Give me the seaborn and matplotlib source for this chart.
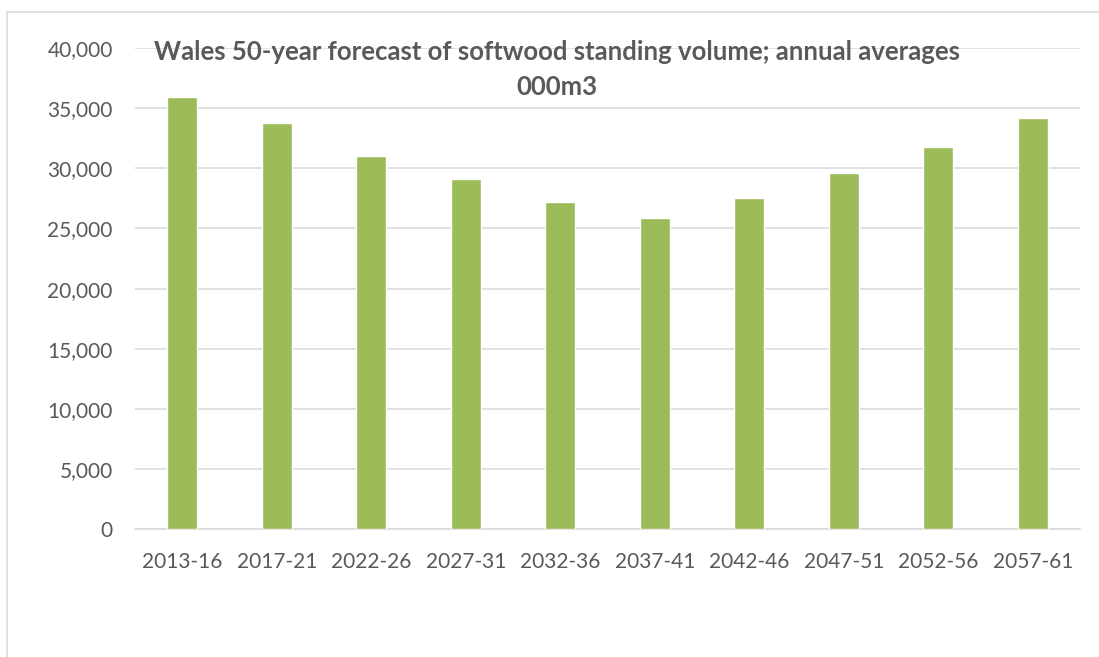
import matplotlib
matplotlib.use("Agg")
import matplotlib.pyplot as plt
import seaborn as sns
import pandas as pd
from matplotlib.patches import Rectangle
from matplotlib.ticker import FuncFormatter

# data (000m3)
periods = ["2013-16", "2017-21", "2022-26", "2027-31", "2032-36",
           "2037-41", "2042-46", "2047-51", "2052-56", "2057-61"]
volumes = [35900, 33780, 31000, 29100, 27200,
           25850, 27500, 29600, 31800, 34180]

title_text = "Wales 50-year forecast of softwood standing volume; annual averages\n000m3"

sns.set_theme(style="white")
plt.rcParams['font.family'] = ['Lato', 'DejaVu Sans']

df = pd.DataFrame({"period": periods, "volume": volumes})

fig = plt.figure(figsize=(10.99, 6.57), dpi=100)
ax = fig.add_axes([135 / 1099, 1 - 529.3 / 657, (1080 - 135) / 1099, (529.3 - 48) / 657])

sns.barplot(data=df, x="period", y="volume", color="#9BBB59", width=0.313,
            saturation=1, ax=ax, zorder=3)

ax.set_ylim(0, 40000)
ax.set_yticks(range(0, 40001, 5000))
ax.yaxis.set_major_formatter(FuncFormatter(lambda v, p: f"{int(v):,}"))
ax.set_xlabel("")
ax.set_ylabel("")
ax.grid(axis="y", color="#D9D9D9", linewidth=1.1, zorder=0)
ax.set_axisbelow(True)
for s in ["top", "right", "left"]:
    ax.spines[s].set_visible(False)
ax.spines["bottom"].set_color("#D9D9D9")
ax.spines["bottom"].set_linewidth(1.1)
ax.tick_params(axis="both", length=0, labelsize=15, labelcolor="#595959")
ax.tick_params(axis="y", pad=16)
ax.tick_params(axis="x", pad=16)

fig.text(557 / 1099, 1 - 40 / 657, title_text, ha="center", va="top",
         fontsize=18.5, fontweight="bold", color="#595959", linespacing=1.55)

# chart border
fig.patches.append(Rectangle((7 / 1099, -0.1), 1.2, 1 - 12 / 657 + 0.1,
                             transform=fig.transFigure, fill=False,
                             edgecolor="#D9D9D9", linewidth=1.1))

fig.savefig("out.png", dpi=100)
